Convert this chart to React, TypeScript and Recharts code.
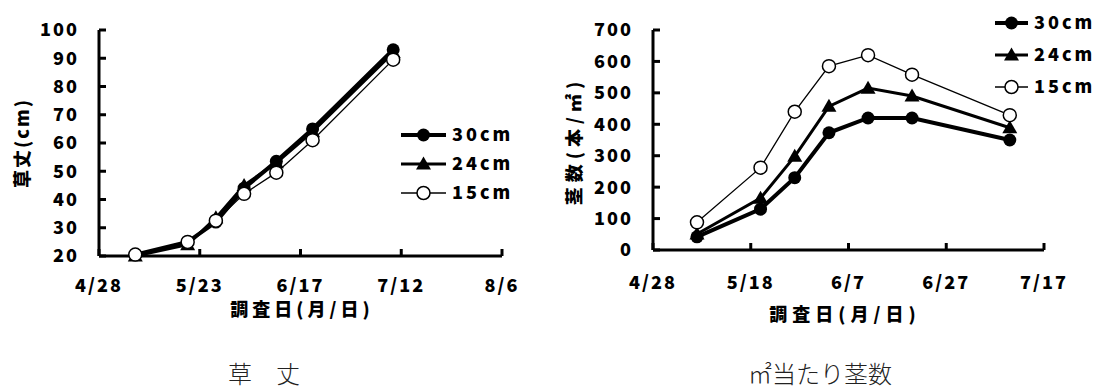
import { LineChart, Line, XAxis, YAxis } from "recharts";

// survey days, counted from 4/28
const surveyDays = [9, 22, 29, 36, 44, 53, 73];
const surveyDates = ["5/7", "5/20", "5/27", "6/3", "6/11", "6/20", "7/10"];

// 草丈 (cm)
const height30 = [20.5, 25, 32, 44, 53.5, 65, 93];
const height24 = [20, 24, 33.5, 45, 53, 64, 92];
const height15 = [20.5, 25, 32.5, 42, 49.5, 61, 89.5];

// 茎数 (本/㎡)
const stem30 = [42, 130, 230, 373, 420, 420, 350];
const stem24 = [51, 165, 298, 457, 515, 490, 389];
const stem15 = [88, 262, 440, 585, 620, 558, 429];

const seriesNames = ["30cm", "24cm", "15cm"];

const heightTicks = [20, 30, 40, 50, 60, 70, 80, 90, 100];
const heightDayTicks = [0, 25, 50, 75, 100];
const heightDateLabels = ["4/28", "5/23", "6/17", "7/12", "8/6"];

const stemTicks = [0, 100, 200, 300, 400, 500, 600, 700];
const stemDayTicks = [0, 20, 40, 60, 80];
const stemDateLabels = ["4/28", "5/18", "6/7", "6/27", "7/17"];

const heightData = surveyDays.map((day, i) => ({
  day,
  date: surveyDates[i],
  s30: height30[i],
  s24: height24[i],
  s15: height15[i],
}));

const stemData = surveyDays.map((day, i) => ({
  day,
  date: surveyDates[i],
  s30: stem30[i],
  s24: stem24[i],
  s15: stem15[i],
}));

const FONT = '"Noto Sans CJK JP", "Noto Sans", sans-serif';

const FilledDot = (p: any) => (
  <circle key={p.key} cx={p.cx} cy={p.cy} r={6.5} fill="#000" />
);
const TriangleDot = (p: any) => (
  <path
    key={p.key}
    d={`M${p.cx},${p.cy - 7.5}L${p.cx + 7.5},${p.cy + 5.5}L${p.cx - 7.5},${p.cy + 5.5}Z`}
    fill="#000"
  />
);
const OpenDot = (p: any) => (
  <circle key={p.key} cx={p.cx} cy={p.cy} r={6.5} fill="#fff" stroke="#000" strokeWidth={1.5} />
);

const seriesStyle = [
  { key: "s30", width: 4, Dot: FilledDot },
  { key: "s24", width: 3, Dot: TriangleDot },
  { key: "s15", width: 1.3, Dot: OpenDot },
];

// legend drawn in the overlay so it doesn't eat into the plot area
function SeriesLegend({ x, y, lineLen, rowGap }: { x: number; y: number; lineLen: number; rowGap: number }) {
  return (
    <g>
      {seriesNames.map((name, i) => {
        const cy = y + i * rowGap;
        const { width, Dot } = seriesStyle[i];
        return (
          <g key={name}>
            <line x1={x} x2={x + lineLen} y1={cy} y2={cy} stroke="#000" strokeWidth={width} />
            <Dot cx={x + lineLen / 2} cy={cy} />
            <text
              x={x + lineLen + 6}
              y={cy}
              dy="0.36em"
              fontSize={18}
              fontWeight={900}
              style={{ letterSpacing: 3 }}
            >
              {name}
            </text>
          </g>
        );
      })}
    </g>
  );
}

const axisStyle = { stroke: "#000", strokeWidth: 3 };
const tickLine = { stroke: "#000", strokeWidth: 3 };
const tickFont = { fill: "#000", fontSize: 18, fontWeight: 900, fontFamily: FONT };

function HeightChart() {
  return (
    <LineChart
      width={540}
      height={300}
      data={heightData}
      margin={{ top: 30, right: 38, left: 39, bottom: 14 }}
    >
      <XAxis
        type="number"
        dataKey="day"
        domain={[0, 100]}
        ticks={heightDayTicks}
        tickFormatter={(v) => heightDateLabels[heightDayTicks.indexOf(v)]}
        axisLine={axisStyle}
        tickLine={tickLine}
        tickSize={-7}
        tickMargin={30}
        tick={tickFont}
        height={30}
        interval={0}
      />
      <YAxis
        type="number"
        domain={[20, 100]}
        ticks={heightTicks}
        axisLine={axisStyle}
        tickLine={tickLine}
        tickSize={-7}
        tickMargin={27}
        tick={tickFont}
        width={60}
        interval={0}
      />
      {seriesStyle.map((s, i) => (
        <Line
          key={s.key}
          dataKey={s.key}
          name={seriesNames[i]}
          stroke="#000"
          strokeWidth={s.width}
          dot={s.Dot}
          activeDot={false}
          isAnimationActive={false}
        />
      ))}
    </LineChart>
  );
}

function StemChart() {
  return (
    <LineChart
      width={568}
      height={300}
      data={stemData}
      margin={{ top: 30, right: 64, left: 53, bottom: 20 }}
    >
      <XAxis
        type="number"
        dataKey="day"
        domain={[0, 80]}
        ticks={stemDayTicks}
        tickFormatter={(v) => stemDateLabels[stemDayTicks.indexOf(v)]}
        axisLine={axisStyle}
        tickLine={tickLine}
        tickSize={-7}
        tickMargin={33}
        tick={tickFont}
        height={30}
        interval={0}
      />
      <YAxis
        type="number"
        domain={[0, 700]}
        ticks={stemTicks}
        axisLine={axisStyle}
        tickLine={tickLine}
        tickSize={-7}
        tickMargin={27}
        tick={tickFont}
        width={60}
        interval={0}
      />
      {seriesStyle.map((s, i) => (
        <Line
          key={s.key}
          dataKey={s.key}
          name={seriesNames[i]}
          stroke="#000"
          strokeWidth={s.width}
          dot={s.Dot}
          activeDot={false}
          isAnimationActive={false}
        />
      ))}
    </LineChart>
  );
}

export default function App() {
  return (
    <div
      style={{
        position: "absolute",
        left: 0,
        top: 0,
        width: 1108,
        height: 390,
        background: "#fff",
        overflow: "hidden",
        fontFamily: FONT,
      }}
    >
      <style>{`.recharts-cartesian-axis-tick-value { letter-spacing: 2px; }`}</style>
      <div style={{ position: "absolute", left: 0, top: 0 }}>
        <HeightChart />
      </div>
      <div style={{ position: "absolute", left: 540, top: 0 }}>
        <StemChart />
      </div>
      <svg
        width={1108}
        height={390}
        style={{ position: "absolute", left: 0, top: 0, pointerEvents: "none" }}
        fontFamily={FONT}
      >
        <SeriesLegend x={401} y={135} lineLen={45} rowGap={29} />
        <SeriesLegend x={995} y={23} lineLen={33} rowGap={32} />
        <text
          transform="translate(23,143) rotate(-90)"
          textAnchor="middle"
          dy="0.36em"
          fontSize={18}
          fontWeight={900}
          style={{ letterSpacing: 2 }}
        >
          草丈(cm)
        </text>
        <text
          transform="translate(575,141) rotate(-90)"
          textAnchor="middle"
          dy="0.36em"
          fontSize={18}
          fontWeight={900}
          style={{ letterSpacing: 5 }}
        >
          茎数(本/㎡)
        </text>
        <text x={302} y={310} textAnchor="middle" dy="0.36em" fontSize={18} fontWeight={900} style={{ letterSpacing: 4 }}>
          調査日(月/日)
        </text>
        <text x={845} y={315} textAnchor="middle" dy="0.36em" fontSize={18} fontWeight={900} style={{ letterSpacing: 5 }}>
          調査日(月/日)
        </text>
        <text x={264} y={374} textAnchor="middle" dy="0.36em" fontSize={24} fontWeight={300} fill="#222">
          草　丈
        </text>
        <text x={820} y={374} textAnchor="middle" dy="0.36em" fontSize={24} fontWeight={300} fill="#222">
          ㎡当たり茎数
        </text>
      </svg>
    </div>
  );
}
